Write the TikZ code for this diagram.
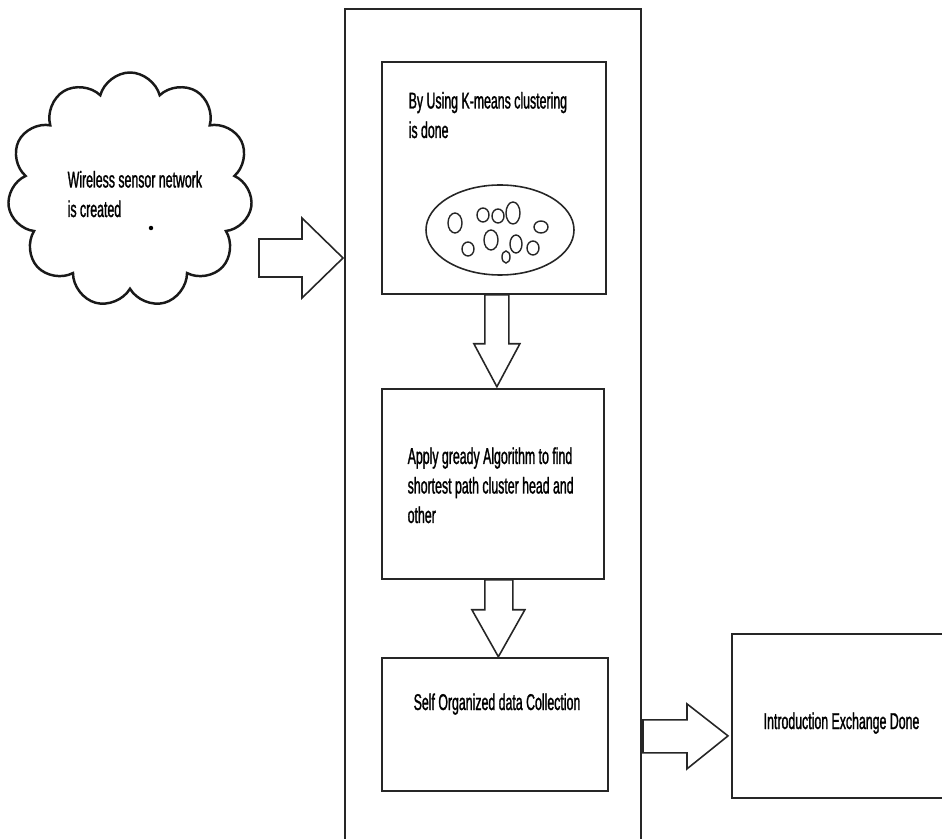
\documentclass[tikz,border=0pt]{standalone}
\usepackage{fontspec}
\setmainfont{Liberation Sans}[FakeStretch=0.54, FakeBold=1.2]
\usepackage{tikz}
\usetikzlibrary{shapes.geometric, shapes.symbols, positioning}

\tikzset{
    stepbox/.style={draw=black!85, line width=1pt, rectangle, anchor=north west},
    steptext/.style={anchor=base west, align=left, inner sep=0pt, font=\fontsize{13}{16.8}\selectfont},
    blockarrow/.style={draw=black!85, line width=0.9pt, fill=white, line join=miter}
}

\begin{document}
\begin{tikzpicture}[thick]
    \useasboundingbox (0,0) rectangle (18.84,-16.78);
    \clip (0,0) rectangle (18.84,-16.78);

    % Left side: the network cloud
    \node[draw=black!90, cloud, cloud puffs=11, aspect=1.1, line width=1.4pt, minimum width=4.9cm, minimum height=4.7cm] (wsn) at (2.6,-3.8) {};
    \node[steptext] (wsntext) at (1.34,-4.34) {Wireless sensor network\\is created};
    \node[circle, fill, inner sep=0.9pt] (dot) at (3.02,-4.56) {};

    % Middle: the three stages
    \node[stepbox, minimum width=5.92cm, minimum height=17.5cm] (stage) at (6.88,-0.16) {};
    \node[stepbox, minimum width=4.48cm, minimum height=4.64cm] (kmeans) at (7.62,-1.22) {};
    \node[stepbox, minimum width=4.44cm, minimum height=3.8cm] (greedy) at (7.62,-7.76) {};
    \node[stepbox, minimum width=4.52cm, minimum height=2.66cm] (collect) at (7.62,-13.14) {};

    \node[steptext] (kmeanstext) at (8.16,-2.76) {By Using K-means clustering\\is done};
    \node[steptext] (greedytext) at (8.14,-10.46) {Apply gready Algorithm to find\\shortest path cluster head and\\other};
    \node[steptext] (collecttext) at (8.26,-14.2) {Self Organized data Collection};

    % the clusters
    \node[draw=black!85, ellipse, line width=0.9pt, inner sep=0pt, minimum width=2.96cm, minimum height=1.8cm] (cluster) at (10.0,-4.6) {};
    \foreach \cx/\cy/\rx/\ry in {9.1/-4.46/0.14/0.2, 9.66/-4.3/0.12/0.14, 9.96/-4.32/0.12/0.14,
        10.26/-4.26/0.14/0.22, 10.82/-4.54/0.14/0.12, 9.82/-4.8/0.14/0.2, 9.36/-4.98/0.12/0.14,
        10.32/-4.88/0.12/0.18, 10.66/-4.96/0.12/0.14, 10.12/-5.14/0.08/0.12}
        \draw[black!85, line width=0.8pt] (\cx,\cy) ellipse [x radius=\rx, y radius=\ry];

    % Right side: result
    \node[stepbox, minimum width=4.8cm, minimum height=3.28cm] (exchange) at (14.62,-12.66) {};
    \node[steptext] (exchangetext) at (15.26,-14.58) {Introduction Exchange Done};

    % block arrows
    \coordinate (inTip) at ([xshift=-0.02cm]stage.west |- 0,-5.16);
    \draw[blockarrow] (inTip) -- ++(-0.82,0.8) -- ++(0,-0.42) -- ++(-0.86,0) -- ++(0,-0.76)
        -- ++(0.86,0) -- ++(0,-0.42) -- cycle;
    \draw[blockarrow] ([xshift=-0.18cm]kmeans.south) -- ++(0,-0.98) -- ++(-0.22,0) -- ++(0.46,-0.86)
        -- ++(0.46,0.86) -- ++(-0.22,0) -- ++(0,0.98) -- cycle;
    \draw[blockarrow] ([xshift=-0.16cm]greedy.south) -- ++(0,-0.6) -- ++(-0.26,0) -- ++(0.53,-0.94)
        -- ++(0.53,0.94) -- ++(-0.24,0) -- ++(0,0.6) -- cycle;
    \draw[blockarrow] ([xshift=-0.06cm, yshift=-0.4cm]exchange.west) -- ++(-0.82,0.64) -- ++(0,-0.32)
        -- ++(-0.88,0) -- ++(0,-0.66) -- ++(0.88,0) -- ++(0,-0.32) -- cycle;
\end{tikzpicture}
\end{document}
